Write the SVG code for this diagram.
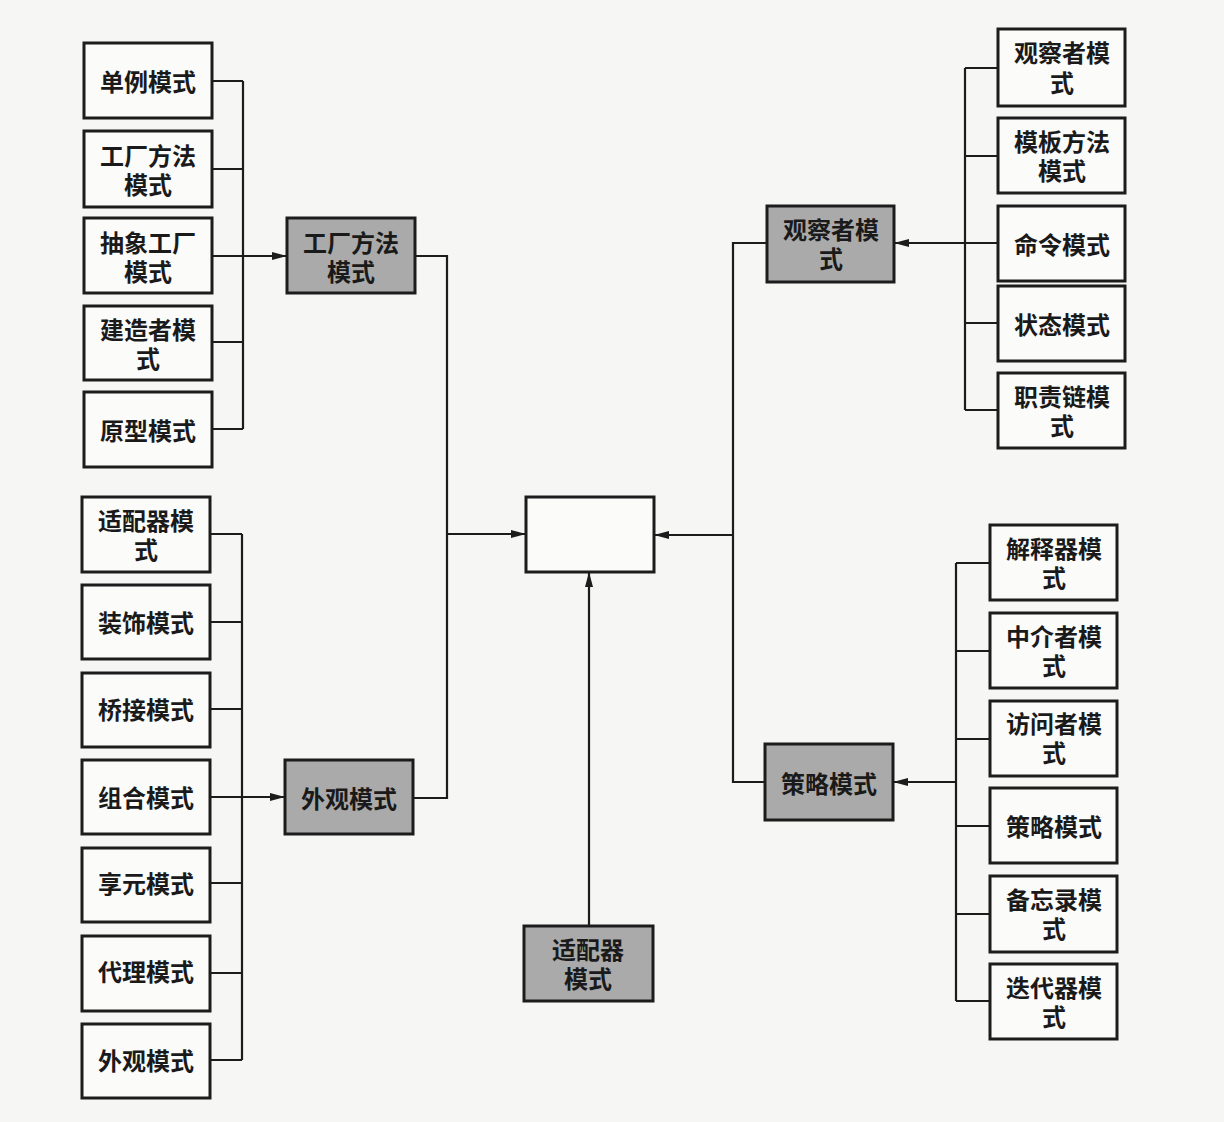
<svg xmlns="http://www.w3.org/2000/svg" width="1224" height="1122" viewBox="0 0 1224 1122">
<style>
.b{fill:#fbfbfa;stroke:#1c1c1c;stroke-width:3}
.g{fill:#aaaaaa;stroke:#1c1c1c;stroke-width:3}
.t{font-family:"Liberation Sans","Noto Sans CJK SC",sans-serif;font-weight:bold;font-size:24px;fill:#1a1a1a;text-anchor:middle;dominant-baseline:central;transform:translateY(2px)}
.c{fill:none;stroke:#1c1c1c;stroke-width:2.2}
.a{fill:none;stroke:#1c1c1c;stroke-width:2.2;marker-end:url(#ah)}
</style>
<defs>
<marker id="ah" markerWidth="16" markerHeight="10" refX="15" refY="5" orient="auto" markerUnits="userSpaceOnUse">
<path d="M0,1 L15,5 L0,9 Z" fill="#1c1c1c"/>
</marker>
</defs>
<rect x="0" y="0" width="1224" height="1122" fill="#f6f6f4"/>

<g id="connectors">
<path class="c" d="M212 81 H243 M212 169 H243 M212 342 H243 M212 429 H243 M243 81 V429"/>
<path class="a" d="M212 256 H287"/>
<path class="c" d="M415 256 H447 V798 H413"/>
<path class="a" d="M447 534 H526"/>
<path class="c" d="M210 534 H242 M210 622 H242 M210 709 H242 M210 883 H242 M210 973 H242 M210 1060 H242 M242 534 V1060"/>
<path class="a" d="M210 797 H285"/>
<path class="a" d="M589 926 V572"/>
<path class="c" d="M767 243 H733 V782 H765"/>
<path class="a" d="M733 535 H654"/>
<path class="c" d="M998 68 H965 M998 156 H965 M998 323 H965 M998 410 H965 M965 68 V410"/>
<path class="a" d="M998 243 H894"/>
<path class="c" d="M990 563 H956 M990 651 H956 M990 739 H956 M990 826 H956 M990 914 H956 M990 1001 H956 M956 563 V1001"/>
<path class="a" d="M956 782 H893"/>
</g>

<g id="n1"><rect class="b" x="84" y="43" width="128" height="75"/><text class="t" x="148" y="80">单例模式</text></g>
<g id="n2"><rect class="b" x="84" y="131" width="128" height="76"/><text class="t" x="148" y="154"><tspan x="148">工厂方法</tspan><tspan x="148" dy="29">模式</tspan></text></g>
<g id="n3"><rect class="b" x="84" y="218" width="128" height="75"/><text class="t" x="148" y="241"><tspan x="148">抽象工厂</tspan><tspan x="148" dy="29">模式</tspan></text></g>
<g id="n4"><rect class="b" x="84" y="306" width="128" height="74"/><text class="t" x="148" y="328"><tspan x="148">建造者模</tspan><tspan x="148" dy="29">式</tspan></text></g>
<g id="n5"><rect class="b" x="84" y="392" width="128" height="75"/><text class="t" x="148" y="429">原型模式</text></g>
<g id="g1"><rect class="g" x="287" y="218" width="128" height="75"/><text class="t" x="351" y="241"><tspan x="351">工厂方法</tspan><tspan x="351" dy="29">模式</tspan></text></g>

<g id="a1"><rect class="b" x="82" y="497" width="128" height="75"/><text class="t" x="146" y="519"><tspan x="146">适配器模</tspan><tspan x="146" dy="29">式</tspan></text></g>
<g id="a2"><rect class="b" x="82" y="585" width="128" height="74"/><text class="t" x="146" y="621">装饰模式</text></g>
<g id="a3"><rect class="b" x="82" y="673" width="128" height="74"/><text class="t" x="146" y="708">桥接模式</text></g>
<g id="a4"><rect class="b" x="82" y="760" width="128" height="74"/><text class="t" x="146" y="796">组合模式</text></g>
<g id="a5"><rect class="b" x="82" y="848" width="128" height="74"/><text class="t" x="146" y="882">享元模式</text></g>
<g id="a6"><rect class="b" x="82" y="936" width="128" height="75"/><text class="t" x="146" y="970">代理模式</text></g>
<g id="a7"><rect class="b" x="82" y="1024" width="128" height="74"/><text class="t" x="146" y="1059">外观模式</text></g>
<g id="g2"><rect class="g" x="285" y="760" width="128" height="74"/><text class="t" x="349" y="797">外观模式</text></g>

<g id="center"><rect class="b" x="526" y="497" width="128" height="75"/></g>
<g id="g3"><rect class="g" x="524" y="926" width="129" height="75"/><text class="t" x="588" y="948"><tspan x="588">适配器</tspan><tspan x="588" dy="29">模式</tspan></text></g>

<g id="g4"><rect class="g" x="767" y="206" width="127" height="76"/><text class="t" x="831" y="228"><tspan x="831">观察者模</tspan><tspan x="831" dy="29">式</tspan></text></g>
<g id="r1"><rect class="b" x="998" y="29" width="127" height="77"/><text class="t" x="1062" y="51"><tspan x="1062">观察者模</tspan><tspan x="1062" dy="30">式</tspan></text></g>
<g id="r2"><rect class="b" x="998" y="118" width="127" height="75"/><text class="t" x="1062" y="140"><tspan x="1062">模板方法</tspan><tspan x="1062" dy="29">模式</tspan></text></g>
<g id="r3"><rect class="b" x="998" y="206" width="127" height="75"/><text class="t" x="1062" y="243">命令模式</text></g>
<g id="r4"><rect class="b" x="998" y="286" width="127" height="75"/><text class="t" x="1062" y="323">状态模式</text></g>
<g id="r5"><rect class="b" x="998" y="373" width="127" height="75"/><text class="t" x="1062" y="395"><tspan x="1062">职责链模</tspan><tspan x="1062" dy="29">式</tspan></text></g>

<g id="g5"><rect class="g" x="765" y="744" width="128" height="76"/><text class="t" x="829" y="782">策略模式</text></g>
<g id="s1"><rect class="b" x="990" y="525" width="127" height="75"/><text class="t" x="1054" y="547"><tspan x="1054">解释器模</tspan><tspan x="1054" dy="29">式</tspan></text></g>
<g id="s2"><rect class="b" x="990" y="613" width="127" height="75"/><text class="t" x="1054" y="635"><tspan x="1054">中介者模</tspan><tspan x="1054" dy="29">式</tspan></text></g>
<g id="s3"><rect class="b" x="990" y="701" width="127" height="75"/><text class="t" x="1054" y="722"><tspan x="1054">访问者模</tspan><tspan x="1054" dy="29">式</tspan></text></g>
<g id="s4"><rect class="b" x="990" y="788" width="127" height="75"/><text class="t" x="1054" y="825">策略模式</text></g>
<g id="s5"><rect class="b" x="990" y="876" width="127" height="76"/><text class="t" x="1054" y="898"><tspan x="1054">备忘录模</tspan><tspan x="1054" dy="29">式</tspan></text></g>
<g id="s6"><rect class="b" x="990" y="964" width="127" height="75"/><text class="t" x="1054" y="986"><tspan x="1054">迭代器模</tspan><tspan x="1054" dy="29">式</tspan></text></g>
</svg>
